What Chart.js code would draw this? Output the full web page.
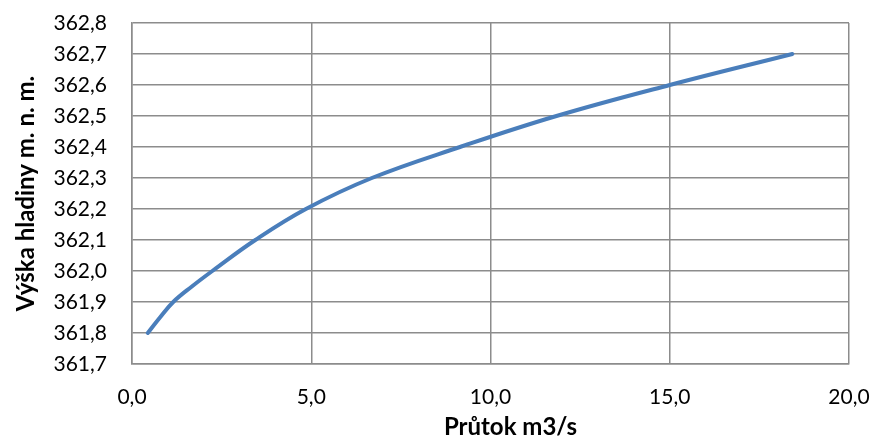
<!DOCTYPE html>
<html>
<head>
<meta charset="utf-8">
<script src="https://cdn.jsdelivr.net/npm/chart.js@4/dist/chart.umd.min.js"></script>
<style>
  html, body { margin: 0; padding: 0; background: #fff; }
  #wrap { width: 877px; height: 443px; position: relative; }
</style>
</head>
<body>
<div id="wrap"><canvas id="c" width="877" height="443"></canvas></div>
<script>
// Měrná křivka: průtok [m3/s] vs. výška hladiny [m n. m.]
const flowValues  = [0.44, 0.78, 1.15, 1.67, 2.24, 3.44, 4.85, 6.69, 9.15, 11.84, 15.0, 18.42];
const levelValues = [361.8, 361.85, 361.9, 361.95, 362.0, 362.1, 362.2, 362.3, 362.4, 362.5, 362.6, 362.7];

const xTitle = 'Průtok m3/s';
const yTitle = 'Výška hladiny m. n. m.';

const fmt = v => v.toFixed(1).replace('.', ',');

const points = flowValues.map((x, i) => ({ x, y: levelValues[i] }));

const FONT = 'Lato, "Open Sans", sans-serif';
const GRID = '#8c8c8c';

// x-axis title, drawn under the tick labels slightly right of the plot centre
const xTitlePlugin = {
  id: 'xTitle',
  afterDraw(chart) {
    const { ctx, chartArea } = chart;
    ctx.save();
    ctx.font = 'bold 24px ' + FONT;
    ctx.fillStyle = '#000';
    ctx.textAlign = 'center';
    ctx.textBaseline = 'middle';
    ctx.fillText(xTitle, (chartArea.left + chartArea.right) / 2 + 20, chartArea.bottom + 63);
    ctx.restore();
  }
};

new Chart(document.getElementById('c'), {
  type: 'scatter',
  data: {
    datasets: [{
      data: points,
      showLine: true,
      borderColor: '#4a7ebb',
      borderWidth: 4,
      pointRadius: 0,
      tension: 0.4,
      borderCapStyle: 'round',
      fill: false
    }]
  },
  options: {
    responsive: false,
    animation: false,
    devicePixelRatio: 1,
    layout: { padding: 0 },
    plugins: { legend: { display: false }, tooltip: { enabled: false } },
    scales: {
      x: {
        type: 'linear',
        min: 0, max: 20,
        afterFit(scale) {
          scale.height = 79;
          scale.paddingLeft = 0;
          scale.paddingRight = 28;
        },
        ticks: {
          stepSize: 5,
          autoSkip: false,
          maxRotation: 0,
          callback: v => fmt(v),
          color: '#000',
          font: { family: FONT, size: 21 },
          padding: 21
        },
        grid: { color: GRID, lineWidth: 1.5, drawTicks: false },
        border: { color: GRID, width: 1.5 }
      },
      y: {
        type: 'linear',
        min: 361.7, max: 362.8,
        afterFit(scale) {
          scale.width = 132;
          scale.paddingTop = 23;
          scale.paddingBottom = 0;
        },
        ticks: {
          stepSize: 0.1,
          autoSkip: false,
          callback: v => fmt(v),
          color: '#000',
          font: { family: FONT, size: 21 },
          padding: 25
        },
        grid: { color: GRID, lineWidth: 1.5, drawTicks: false },
        border: { color: GRID, width: 1.5 },
        title: {
          display: true, text: yTitle, color: '#000',
          font: { family: FONT, size: 24, weight: 'bold' },
          padding: { top: 12, bottom: 0 }
        }
      }
    }
  },
  plugins: [xTitlePlugin]
});
</script>
</body>
</html>
